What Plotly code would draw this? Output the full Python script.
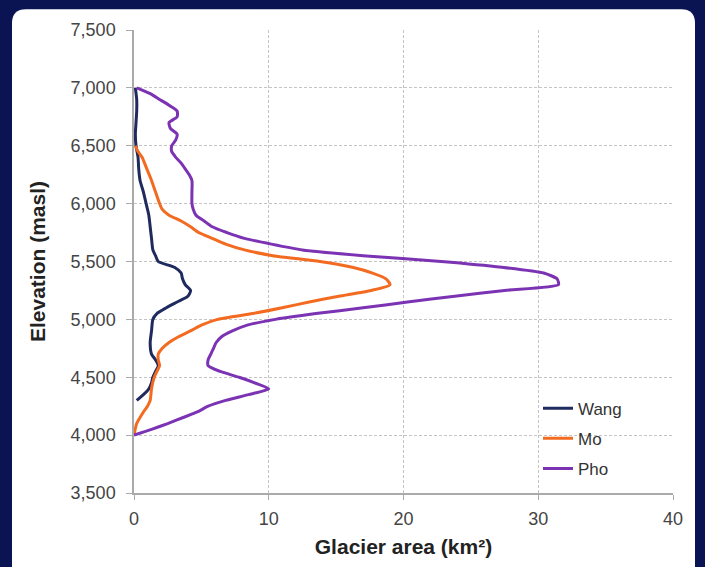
import plotly.graph_objects as go

# Elevation (masl) and glacier area (km2) per basin
wang_elev = [7000, 6900, 6800, 6700, 6600, 6500, 6400, 6300, 6200, 6100, 6000, 5900, 5800, 5700,
             5600, 5550, 5500, 5450, 5400, 5350, 5300, 5250, 5200, 5150, 5100, 5050, 5000, 4900,
             4800, 4700, 4650, 4600, 4550, 4500, 4450, 4400, 4350, 4300]
wang_area = [0.1, 0.2, 0.2, 0.15, 0.1, 0.15, 0.3, 0.35, 0.45, 0.7, 0.9, 1.1, 1.2, 1.3,
             1.4, 1.6, 1.8, 3.0, 3.5, 3.6, 3.8, 4.2, 4.0, 3.2, 2.4, 1.7, 1.4, 1.3,
             1.2, 1.3, 1.6, 1.8, 1.6, 1.4, 1.3, 1.1, 0.7, 0.2]

mo_elev = [6500, 6450, 6400, 6300, 6200, 6100, 6000, 5950, 5900, 5850, 5800, 5750, 5700, 5650,
           5600, 5550, 5500, 5450, 5400, 5350, 5300, 5250, 5200, 5150, 5100, 5050, 5000, 4950,
           4900, 4850, 4800, 4750, 4700, 4650, 4600, 4550, 4500, 4400, 4300, 4250, 4200, 4100, 4000]
mo_area = [0.1, 0.3, 0.6, 0.95, 1.3, 1.6, 1.9, 2.1, 2.6, 3.5, 4.2, 4.8, 5.8, 6.8,
           8.2, 10.3, 13.8, 16.2, 17.7, 18.7, 19.0, 17.6, 15.2, 13.0, 11.0, 8.8, 6.2, 5.0,
           4.2, 3.3, 2.6, 2.1, 1.8, 1.8, 1.9, 1.7, 1.5, 1.3, 1.2, 1.0, 0.7, 0.2, 0.0]

pho_elev = [7000, 6950, 6900, 6850, 6800, 6750, 6700, 6650, 6600, 6550, 6500, 6450, 6400, 6350,
            6300, 6250, 6200, 6100, 6000, 5950, 5900, 5850, 5800, 5750, 5700, 5650, 5600, 5550,
            5500, 5450, 5400, 5350, 5300, 5250, 5200, 5150, 5100, 5050, 5000, 4950, 4900, 4850,
            4800, 4750, 4700, 4650, 4600, 4550, 4500, 4450, 4400, 4350, 4300, 4250, 4200, 4150,
            4100, 4050, 4000]
pho_area = [0.2, 1.2, 1.9, 2.6, 3.2, 3.2, 2.6, 2.7, 3.2, 3.1, 2.8, 2.8, 3.1, 3.5,
            3.8, 4.1, 4.3, 4.3, 4.3, 4.4, 4.6, 5.2, 5.8, 6.9, 8.2, 10.2, 12.5, 17.0,
            22.8, 27.3, 30.4, 31.4, 31.5, 27.5, 23.8, 20.3, 17.0, 13.5, 10.5, 8.4, 7.3, 6.5,
            6.1, 5.9, 5.7, 5.5, 5.5, 6.4, 7.8, 9.0, 10.0, 8.5, 6.8, 5.5, 4.7, 3.6,
            2.5, 1.3, 0.0]

series_names = ["Wang", "Mo", "Pho"]
series_colors = ["#1f2a5e", "#f26b21", "#7b33b3"]

x_ticks = [0, 10, 20, 30, 40]
y_ticks = [3500, 4000, 4500, 5000, 5500, 6000, 6500, 7000, 7500]

BG = "#0b1453"

fig = go.Figure()
for name, color, xs, ys in zip(series_names, series_colors,
                               [wang_area, mo_area, pho_area],
                               [wang_elev, mo_elev, pho_elev]):
    fig.add_trace(go.Scatter(x=xs, y=ys, mode="lines", name=name, legendgroup=name,
                             line=dict(color=color, width=3, shape="spline", smoothing=0.6)))

# white rounded card behind the chart (paper coords relative to plot area)
L, R, T, B = 134, 673, 30, 496
def px(x):
    return (x - L) / (R - L)
def py(y):
    return (B - y) / (B - T)
x0, x1, y1, y0 = px(12), px(695), py(9), py(600)
rx, ry = 14 / (R - L), 14 / (B - T)
path = (f"M{x0+rx},{y1} L{x1-rx},{y1} Q{x1},{y1} {x1},{y1-ry} L{x1},{y0} L{x0},{y0} "
        f"L{x0},{y1-ry} Q{x0},{y1} {x0+rx},{y1} Z")
fig.add_shape(type="path", path=path, xref="paper", yref="paper", layer="below",
              fillcolor="white", line=dict(width=0))

font_family = "Liberation Sans, Arial, sans-serif"
fig.update_layout(
    width=705, height=567,
    margin=dict(l=L, r=705 - R, t=T, b=567 - B),
    paper_bgcolor=BG,
    plot_bgcolor="white",
    font=dict(family=font_family, color="#444"),
    showlegend=True,
    legend=dict(x=px(538), y=py(393), xanchor="left", yanchor="top",
                bgcolor="rgba(255,255,255,0)", font=dict(size=17, color="#333"),
                tracegroupgap=5),
    xaxis=dict(range=[0, 40], tickvals=x_ticks, showgrid=True, gridcolor="#c4c4c4",
               griddash="3px,2px", gridwidth=1, showline=True, linecolor="#aaaaaa", linewidth=1.5,
               ticks="outside", ticklen=5, tickcolor="#aaaaaa", zeroline=False,
               ticklabelstandoff=4,
               tickfont=dict(size=18, color="#444"),
               title=dict(text="<b>Glacier area (km²)</b>", font=dict(size=21, color="#222"),
                          standoff=11)),
    yaxis=dict(range=[3500, 7500], tickvals=y_ticks, tickformat=",", showgrid=True,
               gridcolor="#c4c4c4", griddash="3px,2px", gridwidth=1, showline=True,
               linecolor="#aaaaaa", linewidth=1.5, ticks="outside", ticklen=6,
               tickcolor="#aaaaaa", zeroline=False, ticklabelstandoff=7,
               tickfont=dict(size=18, color="#444"),
               title=dict(text="<b>Elevation (masl)</b>", font=dict(size=21, color="#222"),
                          standoff=19)),
)

fig.write_html("out.html", config={"displayModeBar": False},
               post_script=f"document.body.style.margin='0';document.body.style.background='{BG}';")
